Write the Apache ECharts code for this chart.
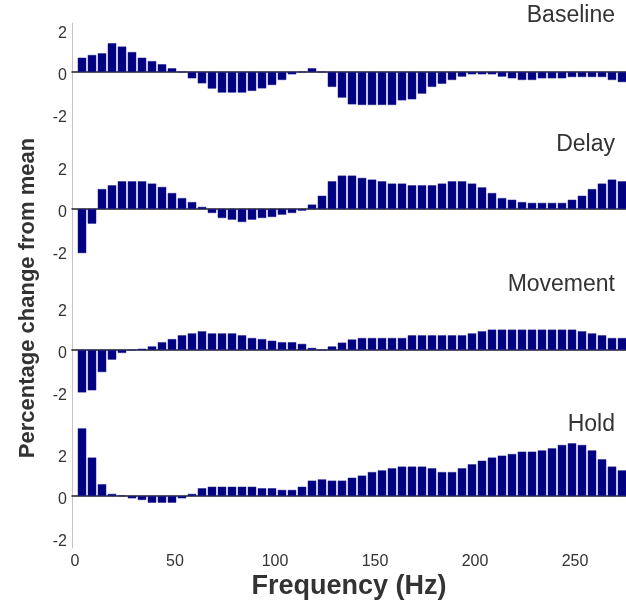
<!DOCTYPE html>
<html>
<head>
<meta charset="utf-8">
<title>Percentage change from mean</title>
<script src="https://cdn.jsdelivr.net/npm/echarts@6/dist/echarts.min.js"></script>
<style>
    html, body { margin: 0; padding: 0; background: #fff; }
    #chart { width: 626px; height: 601px; }
</style>
</head>
<body>
<div id="chart"></div>
<script>
// bin centre frequencies (Hz)
var freqs = [3.5, 8.5, 13.5, 18.5, 23.5, 28.5, 33.5, 38.5, 43.5, 48.5,
    53.5, 58.5, 63.5, 68.5, 73.5, 78.5, 83.5, 88.5, 93.5, 98.5,
    103.5, 108.5, 113.5, 118.5, 123.5, 128.5, 133.5, 138.5, 143.5, 148.5,
    153.5, 158.5, 163.5, 168.5, 173.5, 178.5, 183.5, 188.5, 193.5, 198.5,
    203.5, 208.5, 213.5, 218.5, 223.5, 228.5, 233.5, 238.5, 243.5, 248.5,
    253.5, 258.5, 263.5, 268.5, 273.5];

var baseline = [0.68, 0.81, 0.89, 1.37, 1.21, 0.95, 0.68, 0.52, 0.37, 0.18,
    0.0, -0.30, -0.54, -0.79, -0.98, -0.98, -0.98, -0.90, -0.78, -0.62,
    -0.38, -0.11, 0.0, 0.18, 0.0, -0.71, -1.22, -1.54, -1.57, -1.57,
    -1.57, -1.57, -1.35, -1.30, -1.03, -0.71, -0.56, -0.38, -0.22, -0.11,
    -0.11, -0.11, -0.22, -0.30, -0.38, -0.38, -0.30, -0.30, -0.30, -0.24,
    -0.24, -0.24, -0.24, -0.38, -0.48];

var delay = [-2.10, -0.70, 0.95, 1.13, 1.32, 1.32, 1.32, 1.21, 1.05, 0.76,
    0.52, 0.33, 0.10, -0.19, -0.43, -0.51, -0.62, -0.51, -0.43, -0.38,
    -0.27, -0.19, -0.08, 0.21, 0.63, 1.32, 1.59, 1.59, 1.48, 1.40,
    1.32, 1.21, 1.21, 1.13, 1.13, 1.13, 1.21, 1.32, 1.32, 1.21,
    1.03, 0.76, 0.52, 0.44, 0.33, 0.29, 0.29, 0.29, 0.29, 0.44,
    0.63, 0.95, 1.21, 1.40, 1.32];

var movement = [-2.02, -1.92, -1.05, -0.46, -0.14, 0.0, 0.06, 0.17, 0.37, 0.52,
    0.70, 0.79, 0.89, 0.79, 0.79, 0.79, 0.70, 0.57, 0.52, 0.44,
    0.37, 0.37, 0.29, 0.10, 0.0, 0.17, 0.35, 0.50, 0.57, 0.57,
    0.57, 0.57, 0.57, 0.70, 0.70, 0.70, 0.70, 0.70, 0.70, 0.79,
    0.89, 0.97, 0.97, 0.97, 0.97, 0.97, 0.97, 0.97, 0.97, 0.97,
    0.89, 0.79, 0.70, 0.57, 0.57];

var hold = [3.22, 1.83, 0.56, 0.10, 0.02, -0.11, -0.19, -0.32, -0.32, -0.32,
    -0.11, 0.10, 0.37, 0.44, 0.44, 0.44, 0.44, 0.44, 0.37, 0.37,
    0.29, 0.29, 0.44, 0.73, 0.79, 0.73, 0.73, 0.87, 0.97, 1.14,
    1.22, 1.32, 1.40, 1.40, 1.40, 1.32, 1.14, 1.14, 1.32, 1.51,
    1.68, 1.83, 1.92, 2.00, 2.11, 2.11, 2.17, 2.27, 2.43, 2.51,
    2.43, 2.17, 1.75, 1.40, 1.22];

var panelNames = ['Baseline', 'Delay', 'Movement', 'Hold'];
var panelData = [baseline, delay, movement, hold];
var yTicks = [-2, 0, 2];
var xTicks = [0, 50, 100, 150, 200, 250];

// layout (pixels)
var zeroY = [72, 209, 350, 496];
var edges = [23, 140, 281, 425, 548];
var titleTop = [4, 133, 273, 413];
var pxPerUnit = 21;
var font = '"Liberation Sans", Arial, sans-serif';
var barColor = '#000080';

var chart = echarts.init(document.getElementById('chart'));

var grids = [], xAxes = [], yAxes = [], series = [], titles = [];

for (var i = 0; i < panelNames.length; i++) {
    grids.push({
        left: 72,
        width: 554,
        top: edges[i],
        height: edges[i + 1] - edges[i],
        containLabel: false,
        outerBoundsMode: 'none'
    });

    // zero line of each panel
    xAxes.push({
        gridIndex: i,
        type: 'value',
        min: -1.5,
        max: 275.5,
        axisLine: { onZero: true, lineStyle: { color: '#222', width: 1.5 } },
        axisTick: { show: false },
        axisLabel: { show: false },
        splitLine: { show: false }
    });

    yAxes.push({
        gridIndex: i,
        type: 'value',
        min: -(edges[i + 1] - zeroY[i]) / pxPerUnit,
        max: (zeroY[i] - edges[i]) / pxPerUnit,
        axisLine: { show: true, onZero: false, lineStyle: { color: '#c4c4c4', width: 1 } },
        axisTick: { show: false },
        splitLine: { show: false },
        axisLabel: {
            customValues: yTicks,
            margin: 5,
            formatter: '{t|{value}}',
            rich: {
                t: {
                    fontSize: 16,
                    color: '#333',
                    fontFamily: font,
                    padding: [7, 0, 0, 0]
                }
            }
        }
    });

    series.push({
        name: panelNames[i],
        type: 'bar',
        xAxisIndex: i,
        yAxisIndex: i,
        barWidth: 8.5,
        silent: true,
        data: freqs.map(function(f, j) { return [f, panelData[i][j]]; }),
        itemStyle: {
            color: barColor,
            borderColor: '#1f1f8c',
            borderWidth: 0.5
        }
    });

    titles.push({
        text: panelNames[i],
        right: 11,
        top: titleTop[i],
        padding: 0,
        textStyle: {
            fontFamily: font,
            fontSize: 23,
            fontWeight: 'normal',
            color: '#333'
        }
    });
}

// frequency axis under the last panel
xAxes.push({
    gridIndex: 3,
    type: 'value',
    position: 'bottom',
    min: -1.5,
    max: 275.5,
    axisLine: { show: false, onZero: false },
    axisTick: { show: false },
    splitLine: { show: false },
    axisLabel: {
        customValues: xTicks,
        fontSize: 16,
        color: '#333',
        fontFamily: font,
        margin: 6
    },
    name: 'Frequency (Hz)',
    nameLocation: 'middle',
    nameGap: 25,
    nameTextStyle: {
        fontFamily: font,
        fontSize: 27,
        fontWeight: 'bold',
        color: '#333'
    }
});

var option = {
    backgroundColor: '#fff',
    animation: false,
    title: titles,
    grid: grids,
    xAxis: xAxes,
    yAxis: yAxes,
    series: series,
    graphic: [{
        type: 'text',
        x: 28,
        y: 298,
        rotation: Math.PI / 2,
        style: {
            text: 'Percentage change from mean',
            fontFamily: font,
            fontSize: 22,
            fontWeight: 'bold',
            fill: '#333',
            align: 'center',
            verticalAlign: 'middle'
        }
    }]
};

chart.setOption(option);

window.addEventListener('resize', function() {
    chart.resize();
});
</script>
</body>
</html>
